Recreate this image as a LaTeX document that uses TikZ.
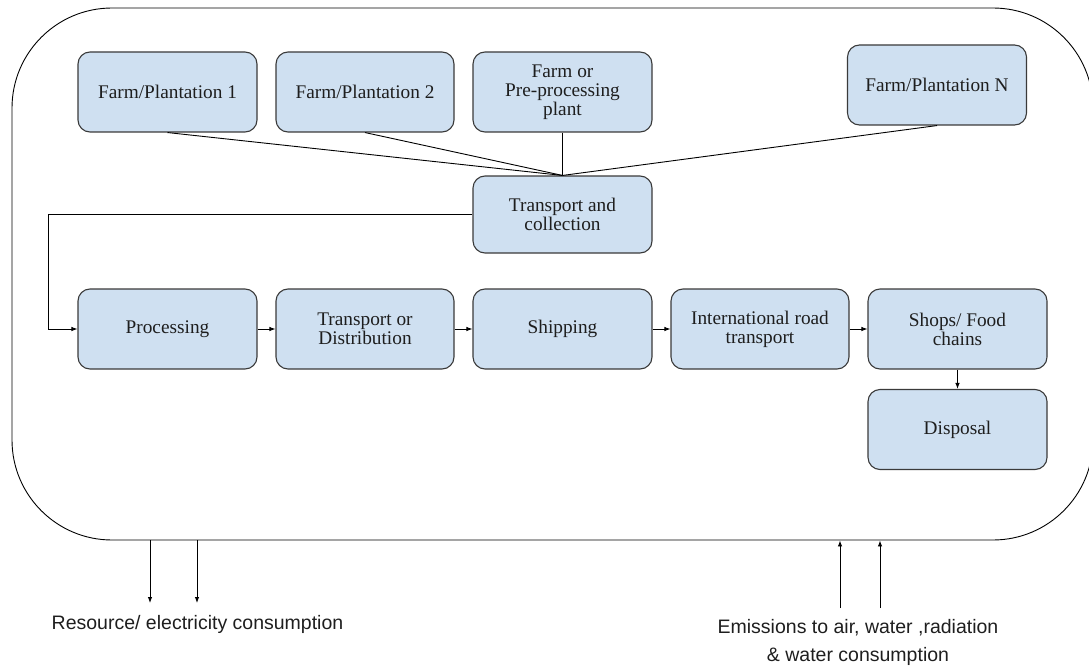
\documentclass[tikz,border=0pt]{standalone}
\usepackage{fontspec}
\usetikzlibrary{arrows.meta}
\newfontfamily\serifbox{Liberation Serif}
\newfontfamily\sanslabel{Liberation Sans}
\definecolor{boxblue}{HTML}{CFE0F1}
\definecolor{boxline}{HTML}{3A3A3A}
\definecolor{inktext}{HTML}{1E1E1E}
\begin{document}
\begin{tikzpicture}[x=1pt,y=-1pt,
  stage/.style={draw=boxline, line width=1.1pt, fill=boxblue, rounded corners=12pt,
    minimum width=179pt, minimum height=80pt, inner sep=0pt, align=center,
    text=inktext, font=\serifbox\fontsize{19.3}{19}\selectfont},
  link/.style={draw=black, line width=0.9pt},
  arr/.style={link, -{Latex[length=6pt,width=4.5pt]}},
  flowlabel/.style={text=inktext, inner sep=0pt, anchor=base,
    font=\sanslabel\fontsize{19.5}{19.5}\selectfont}
]
\useasboundingbox (0,0) rectangle (1089,666);

% system boundary (its right side runs just past the page edge)
\node[draw=black, line width=0.9pt, rounded corners=100pt, minimum width=1081pt,
  minimum height=532pt, inner sep=0pt] (frame) at (552.5,274) {};

% sources
\node[stage] (f1) at (167.5,92) {Farm/Plantation 1};
\node[stage, minimum width=178pt] (f2) at (365,92) {Farm/Plantation 2};
\node[stage] (pp) at (562.5,92) {Farm or\\Pre-processing\\plant};
\node[stage] (fn) at (937,85) {Farm/Plantation N};
\node[stage, minimum height=77pt] (tc) at (562.5,214.5) {Transport and\\collection};

% main chain
\node[stage] (proc) at (167.5,329) {Processing};
\node[stage, minimum width=178pt] (td) at (365,329) {Transport or\\Distribution};
\node[stage] (ship) at (562.5,329) {Shipping};
\node[stage, minimum width=178pt] (irt) at (760,329) {International road\\transport};
\node[stage] (shop) at (957.5,329) {Shops/ Food\\chains};
\node[stage] (disp) at (957.5,429.5) {Disposal};

% collection lines
\draw[link] (f1.south) -- (tc.north);
\draw[link] (f2.south) -- (tc.north);
\draw[link] (pp.south) -- (tc.north);
\draw[link] (fn.south) -- (tc.north);

% loop from collection to processing
\coordinate (loopx) at (48,0);
\draw[arr] (tc.west) -- (tc.west -| loopx) |- (proc.west);

\draw[arr] (proc.east) -- (td.west);
\draw[arr] (td.east) -- (ship.west);
\draw[arr] (ship.east) -- (irt.west);
\draw[arr] (irt.east) -- (shop.west);
\draw[arr] (shop.south) -- (disp.north);

% inputs and outputs across the boundary
\coordinate (in1) at (150,603);
\coordinate (in2) at (197,603);
\coordinate (out1) at (840,608);
\coordinate (out2) at (880,608);
\draw[arr] (frame.south -| in1) -- (in1);
\draw[arr] (frame.south -| in2) -- (in2);
\draw[arr] (out1) -- (frame.south -| out1);
\draw[arr] (out2) -- (frame.south -| out2);

\node[flowlabel] (res) at (197.5,629) {Resource/ electricity consumption};
\node[flowlabel] (em1) at (858,633) {Emissions to air, water ,radiation};
\node[flowlabel] (em2) at (858,661) {\& water consumption};
\end{tikzpicture}
\end{document}
